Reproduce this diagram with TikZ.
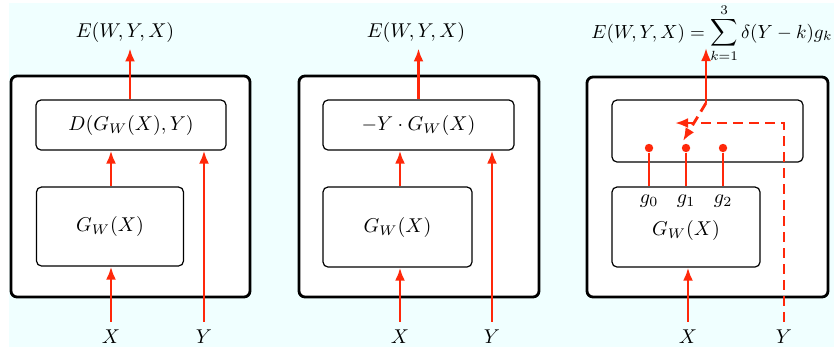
\documentclass[tikz,border=0pt]{standalone}
\usetikzlibrary{arrows.meta}
\definecolor{bgcyan}{RGB}{240,255,255}
\definecolor{arrred}{RGB}{255,40,10}
\begin{document}
\begin{tikzpicture}[x=0.5pt,y=-0.5pt,
  outerbox/.style={draw, line width=1.4pt, rounded corners=3pt, fill=white, inner sep=0pt},
  innerbox/.style={draw, line width=0.6pt, rounded corners=2.5pt, fill=white, inner sep=0pt},
  flow/.style={draw=arrred, line width=1.4pt, -{Latex[length=6.5pt,width=5pt]}},
  dflow/.style={flow, dash pattern=on 5pt off 3pt},
  rline/.style={draw=arrred, line width=1.4pt},
  rdot/.style={circle, fill=arrred, inner sep=0pt, minimum size=4.2pt},
  inlbl/.style={anchor=base, inner sep=3.5pt},
  outlbl/.style={anchor=base, inner sep=3pt},
  txt/.style={inner sep=0pt},
]
\useasboundingbox (0,0) rectangle (834,350);
\fill[bgcyan] (9,3) rectangle (834,347);

% ---------- Panel 1 ----------
\node[outerbox, minimum width=119.5pt, minimum height=110.5pt] (o1) at (130.5,186.5) {};
\node[innerbox, minimum width=95pt, minimum height=25pt] (u1) at (131,125) {$D(G_W(X),Y)$};
\node[innerbox, minimum width=73.5pt, minimum height=39.5pt] (l1) at (110,226.5) {$G_W(X)$};
\node[inlbl] (x1) at (111,343) {$X$};
\node[inlbl] (y1) at (204,343) {$Y$};
\node[outlbl] (e1) at (125,37) {$E(W,Y,X)$};
\draw[flow] (x1.north) -- (x1.north |- l1.south);
\draw[flow] (l1.north -| x1.north) -- (x1.north |- u1.south);
\draw[flow] (y1.north) -- (y1.north |- u1.south);
\draw[flow] (u1.north -| 130,0) -- (e1.south -| 130,0);

% ---------- Panel 2 ----------
\node[outerbox, minimum width=120pt, minimum height=110.5pt] (o2) at (419,186.5) {};
\node[innerbox, minimum width=95.5pt, minimum height=25pt] (u2) at (418.5,125) {$-Y\cdot G_W(X)$};
\node[innerbox, minimum width=74.5pt, minimum height=40pt] (l2) at (397.5,227) {$G_W(X)$};
\node[inlbl] (x2) at (400,343) {$X$};
\node[inlbl] (y2) at (492,343) {$Y$};
\node[outlbl] (e2) at (416,37) {$E(W,Y,X)$};
\draw[flow] (x2.north) -- (x2.north |- l2.south);
\draw[flow] (l2.north -| x2.north) -- (x2.north |- u2.south);
\draw[flow] (y2.north) -- (y2.north |- u2.south);
\draw[flow] (u2.north) -- (u2.north |- e2.south);

% ---------- Panel 3 ----------
\node[outerbox, minimum width=120.5pt, minimum height=110pt] (o3) at (707.5,187) {};
\node[innerbox, minimum width=95.5pt, minimum height=31pt] (u3) at (707.5,131) {};
\node[innerbox, minimum width=74pt, minimum height=40pt] (l3) at (686,227) {};
\node[txt] (gw3) at (686,230) {$G_W(X)$};
\node[txt] (g0) at (649,201) {$g_0$};
\node[txt] (g1) at (686,201) {$g_1$};
\node[txt] (g2) at (723,201) {$g_2$};
\node[inlbl] (x3) at (688,343) {$X$};
\node[inlbl] (y3) at (784,343) {$Y$};
\node[anchor=base west, inner sep=0pt] (e3) at (591,38) {\scalebox{0.95}{$E(W,Y,X) = \displaystyle\sum_{k=1}^{3}\delta(Y-k)g_k$}};
\node[rdot] (d0) at (649,148) {};
\node[rdot] (d1) at (686,148) {};
\node[rdot] (d2) at (723,148) {};
\draw[rline] (d0) -- (d0 |- l3.north);
\draw[rline] (d1) -- (d1 |- l3.north);
\draw[rline] (d2) -- (d2 |- l3.north);
\draw[flow] (x3.north) -- (x3.north |- l3.south);
\coordinate (c3) at (706,103);
\coordinate (t3) at (706,48);
\coordinate (h3) at (675,123);
\coordinate (s3) at (683,141);
\draw[flow] (c3) -- (t3);
\draw[dflow] (y3.north) |- (h3);
\draw[dflow] (c3) -- (s3);
\end{tikzpicture}
\end{document}
